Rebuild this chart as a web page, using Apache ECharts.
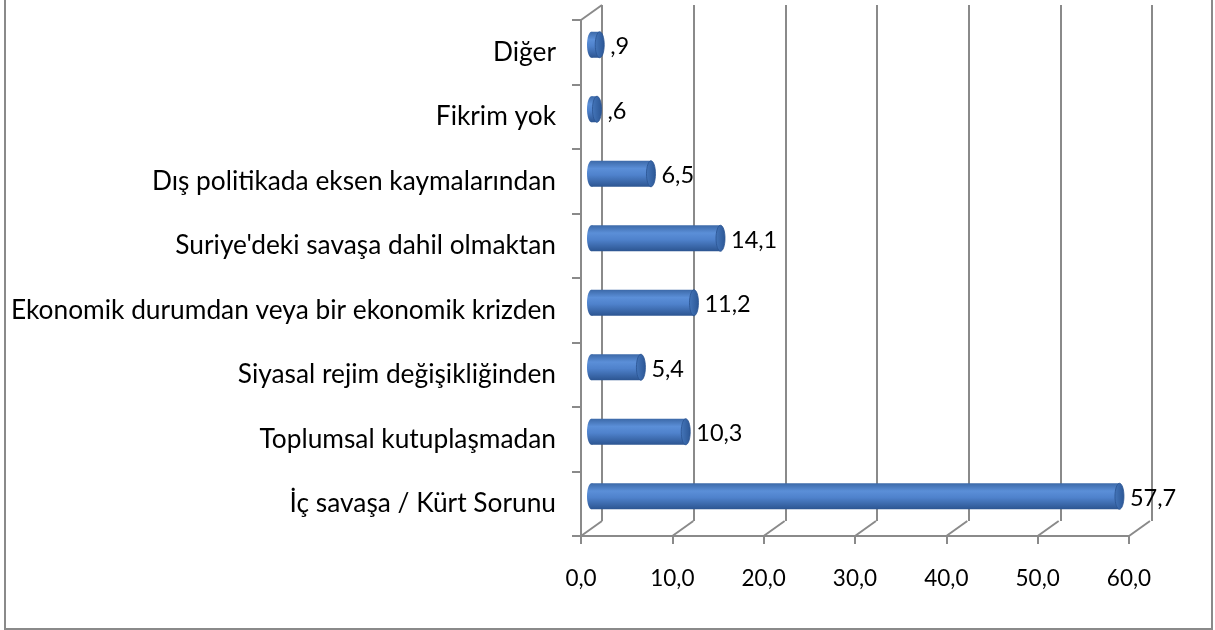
<!DOCTYPE html>
<html>
<head>
<meta charset="utf-8">
<script src="https://cdn.jsdelivr.net/npm/echarts@6/dist/echarts.min.js"></script>
<style>
html, body { margin: 0; padding: 0; background: #fff; }
#container { width: 1215px; height: 630px; }
</style>
</head>
<body>
<div id="container"></div>
<script>
// kategoriler yukaridan asagiya
var categories = [
    'Diğer',
    'Fikrim yok',
    'Dış politikada eksen kaymalarından',
    "Suriye'deki savaşa dahil olmaktan",
    'Ekonomik durumdan veya bir ekonomik krizden',
    'Siyasal rejim değişikliğinden',
    'Toplumsal kutuplaşmadan',
    'İç savaşa / Kürt Sorunu'
];
var values = [0.9, 0.6, 6.5, 14.1, 11.2, 5.4, 10.3, 57.7];
var tickValues = [0, 10, 20, 30, 40, 50, 60];

var FONT = 'Lato';
var GRAY = '#8a8a8a';
var DX = 21, DY = -15;   // derinlik kaymasi

function fmtTick(v) {
    return v.toFixed(1).replace('.', ',');
}
function fmtVal(v) {
    return v.toFixed(1).replace('.', ',').replace(/^0,/, ',');
}

var dom = document.getElementById('container');
var myChart = echarts.init(dom);

function renderFloor(params, api) {
    var cs = params.coordSys;
    var x = api.coord([api.value(0), 0])[0];
    var yb = cs.y + cs.height;
    var children = [{
        type: 'line',
        shape: { x1: x, y1: yb, x2: x + DX, y2: yb + DY },
        style: { stroke: GRAY, lineWidth: 2 }
    }];
    if (params.dataIndex === 0) {
        children.push({
            type: 'line',
            shape: { x1: cs.x, y1: cs.y, x2: cs.x + DX, y2: cs.y + DY },
            style: { stroke: GRAY, lineWidth: 2 }
        });
    }
    return { type: 'group', children: children };
}

function renderBar(params, api) {
    var idx = api.value(0);
    var val = api.value(1);
    var p0 = api.coord([0, idx]);
    var p1 = api.coord([val, idx]);
    var h = 26, rx = 4.5;
    var yc = p0[1];
    var top = yc - h / 2;
    var body = new echarts.graphic.LinearGradient(0, 0, 0, 1, [
        { offset: 0, color: '#3c69a8' },
        { offset: 0.3, color: '#5b8fd8' },
        { offset: 0.55, color: '#4f82cc' },
        { offset: 1, color: '#2c5591' }
    ]);
    var cap = new echarts.graphic.LinearGradient(0, 0, 1, 0, [
        { offset: 0, color: '#4576ba' },
        { offset: 1, color: '#2b5695' }
    ]);
    return {
        type: 'group',
        children: [
            {
                type: 'ellipse',
                shape: { cx: p0[0], cy: yc, rx: rx, ry: h / 2 },
                style: { fill: body }
            },
            {
                type: 'rect',
                shape: { x: p0[0], y: top, width: Math.max(p1[0] - p0[0], 0.5), height: h },
                style: { fill: body }
            },
            {
                type: 'ellipse',
                shape: { cx: p1[0], cy: yc, rx: rx, ry: h / 2 },
                style: { fill: cap, stroke: '#2a5390', lineWidth: 0.8 }
            },
            {
                type: 'text',
                style: {
                    x: p1[0] + rx + 6,
                    y: yc + 2,
                    text: fmtVal(val),
                    fill: '#000',
                    font: '23.5px ' + FONT,
                    verticalAlign: 'middle',
                    align: 'left'
                }
            }
        ]
    };
}

var option = {
    animation: false,
    graphic: [{
        type: 'rect',
        shape: { x: 5, y: -5, width: 1207, height: 634 },
        style: { fill: 'none', stroke: GRAY, lineWidth: 2 },
        z: 0
    }],
    grid: [
        // on yuz
        { left: 581, width: 548, top: 20, height: 516 },
        // arka duvar
        { left: 602, width: 550, top: 5, height: 516 },
        // cubuklar (orta derinlik)
        { left: 591.5, width: 549, top: 12.5, height: 516 }
    ],
    xAxis: [
        {
            gridIndex: 0, type: 'value', min: 0, max: 60, interval: 10,
            axisLine: { show: true, lineStyle: { color: GRAY, width: 2 } },
            axisTick: { show: true, length: 8, lineStyle: { color: GRAY, width: 2 } },
            splitLine: { show: false },
            axisLabel: { formatter: fmtTick, color: '#000', fontFamily: FONT, fontSize: 22.5, margin: 31 }
        },
        {
            gridIndex: 1, type: 'value', min: 0, max: 60, interval: 10,
            axisLine: { show: false }, axisTick: { show: false }, axisLabel: { show: false },
            splitLine: { show: true, lineStyle: { color: GRAY, width: 2 } }
        },
        {
            gridIndex: 2, type: 'value', min: 0, max: 60, show: false
        }
    ],
    yAxis: [
        {
            gridIndex: 0, type: 'category', data: categories, inverse: true,
            axisLine: { show: true, lineStyle: { color: GRAY, width: 2 } },
            axisTick: { show: true, length: 9, lineStyle: { color: GRAY, width: 2 } },
            axisLabel: { color: '#000', fontFamily: FONT, fontSize: 26.3, margin: 25 }
        },
        {
            gridIndex: 1, type: 'category', data: categories, inverse: true, show: false
        },
        {
            gridIndex: 2, type: 'category', data: categories, inverse: true, show: false
        }
    ],
    series: [
        {
            type: 'custom',
            xAxisIndex: 0, yAxisIndex: 0,
            renderItem: renderFloor,
            data: tickValues.map(function (v) { return [v, 0]; }),
            silent: true,
            z: 1
        },
        {
            type: 'custom',
            xAxisIndex: 2, yAxisIndex: 2,
            renderItem: renderBar,
            data: values.map(function (v, i) { return [i, v]; }),
            encode: { x: 1, y: 0 },
            z: 5
        }
    ]
};
myChart.setOption(option, true);
</script>
</body>
</html>
